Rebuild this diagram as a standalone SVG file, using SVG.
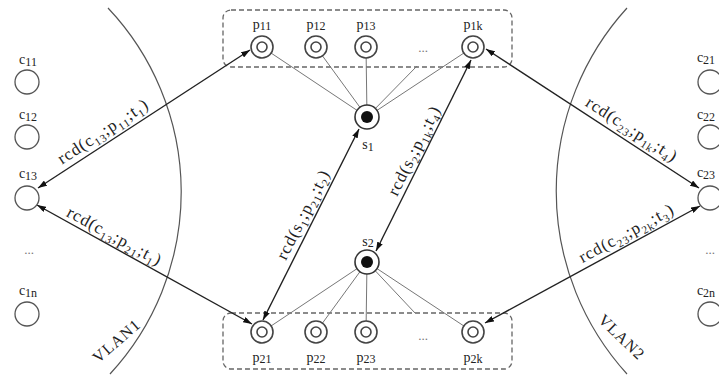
<svg xmlns="http://www.w3.org/2000/svg" width="719" height="376" viewBox="0 0 719 376">
<defs>
<marker id="ah" markerUnits="userSpaceOnUse" markerWidth="9" markerHeight="6" refX="9" refY="3" orient="auto-start-reverse"><path d="M0,0 L9,3 L0,6 z" fill="#111"/></marker>
<style>
text{font-family:"Liberation Serif","Times New Roman",serif;fill:#222}
.lbl{font-size:14px;text-anchor:middle}
.sub{font-size:12px}
.rcd{font-size:17px;text-anchor:middle;letter-spacing:1px}
.rs{font-size:11px}
.vlan{font-size:16px;text-anchor:middle;letter-spacing:1px}
.dots{font-size:13px;text-anchor:middle;fill:#777}
.arc{fill:none;stroke:#555;stroke-width:1.2}
.box{fill:none;stroke:#666;stroke-width:1.3;stroke-dasharray:5 3}
.client{fill:#fff;stroke:#555;stroke-width:1.3}
.po{fill:#fff;stroke:#444;stroke-width:1.6}
.pi{fill:#fff;stroke:#444;stroke-width:1.6}
.so{fill:#fff;stroke:#333;stroke-width:1.6}
.si{fill:#111}
.thin{stroke:#777;stroke-width:1}
.arr{stroke:#222;stroke-width:1.4;marker-start:url(#ah);marker-end:url(#ah)}
</style>
</defs>
<rect width="719" height="376" fill="#fff"/>

<!-- VLAN arcs and boxes -->
<path class="arc" d="M108,8 A268,268 0 0 1 110,374"/>
<path class="arc" d="M627,8 A272,272 0 0 0 627,374"/>
<text class="vlan" transform="translate(120,345) rotate(-41)">VLAN1</text>
<text class="vlan" transform="translate(618,341) rotate(44)">VLAN2</text>
<rect class="box" x="223" y="10" width="289" height="57" rx="8"/>
<rect class="box" x="223" y="313" width="289" height="56" rx="8"/>

<g id="connectors">
<line class="thin" x1="367" y1="117" x2="262" y2="47"/>
<line class="thin" x1="367" y1="117" x2="316" y2="47"/>
<line class="thin" x1="367" y1="117" x2="366" y2="47"/>
<line class="thin" x1="367" y1="117" x2="417" y2="66"/>
<line class="thin" x1="367" y1="117" x2="473" y2="47"/>
<line class="thin" x1="367" y1="262" x2="262" y2="332"/>
<line class="thin" x1="367" y1="262" x2="316" y2="332"/>
<line class="thin" x1="367" y1="262" x2="366" y2="332"/>
<line class="thin" x1="367" y1="262" x2="415" y2="313"/>
<line class="thin" x1="367" y1="262" x2="473" y2="332"/>
<line class="arr" x1="38" y1="188" x2="250" y2="50"/>
<line class="arr" x1="37" y1="205" x2="252" y2="324"/>
<line class="arr" x1="263" y1="320" x2="359" y2="129"/>
<line class="arr" x1="376" y1="251" x2="471" y2="60"/>
<line class="arr" x1="486" y1="49" x2="699" y2="188"/>
<line class="arr" x1="700" y1="206" x2="485" y2="323"/>
<text class="rcd" transform="translate(106,136) rotate(-33.2)">rcd(c<tspan class="rs" dy="4">13</tspan><tspan dy="-4">;p</tspan><tspan class="rs" dy="4">11</tspan><tspan dy="-4">;t</tspan><tspan class="rs" dy="4">1</tspan><tspan dy="-4">)</tspan></text>
<text class="rcd" transform="translate(112,241) rotate(28.6)">rcd(c<tspan class="rs" dy="4">13</tspan><tspan dy="-4">;p</tspan><tspan class="rs" dy="4">21</tspan><tspan dy="-4">;t</tspan><tspan class="rs" dy="4">1</tspan><tspan dy="-4">)</tspan></text>
<text class="rcd" transform="translate(308,217) rotate(-63.2)">rcd(s<tspan class="rs" dy="4">1</tspan><tspan dy="-4">;p</tspan><tspan class="rs" dy="4">21</tspan><tspan dy="-4">;t</tspan><tspan class="rs" dy="4">2</tspan><tspan dy="-4">)</tspan></text>
<text class="rcd" transform="translate(419,153) rotate(-63.4)">rcd(s<tspan class="rs" dy="4">2</tspan><tspan dy="-4">;p</tspan><tspan class="rs" dy="4">1k</tspan><tspan dy="-4">;t</tspan><tspan class="rs" dy="4">4</tspan><tspan dy="-4">)</tspan></text>
<text class="rcd" transform="translate(629,134) rotate(32.9)">rcd(c<tspan class="rs" dy="4">23</tspan><tspan dy="-4">;p</tspan><tspan class="rs" dy="4">1k</tspan><tspan dy="-4">;t</tspan><tspan class="rs" dy="4">4</tspan><tspan dy="-4">)</tspan></text>
<text class="rcd" transform="translate(629,238) rotate(-28.4)">rcd(c<tspan class="rs" dy="4">23</tspan><tspan dy="-4">;p</tspan><tspan class="rs" dy="4">2k</tspan><tspan dy="-4">;t</tspan><tspan class="rs" dy="4">3</tspan><tspan dy="-4">)</tspan></text>
</g>

<!-- left clients -->
<g id="c11"><text class="lbl" x="28" y="64">c<tspan class="sub" dy="2">11</tspan></text><circle class="client" cx="27" cy="82" r="12"/></g>
<g id="c12"><text class="lbl" x="28" y="119">c<tspan class="sub" dy="2">12</tspan></text><circle class="client" cx="27" cy="137" r="12"/></g>
<g id="c13"><text class="lbl" x="28" y="178">c<tspan class="sub" dy="2">13</tspan></text><circle class="client" cx="27" cy="198" r="12"/></g>
<text class="dots" x="29" y="254">...</text>
<g id="c1n"><text class="lbl" x="28" y="295">c<tspan class="sub" dy="2">1n</tspan></text><circle class="client" cx="27" cy="314" r="12"/></g>

<!-- right clients -->
<g id="c21"><text class="lbl" x="706" y="62">c<tspan class="sub" dy="2">21</tspan></text><circle class="client" cx="710" cy="82" r="12"/></g>
<g id="c22"><text class="lbl" x="706" y="119">c<tspan class="sub" dy="2">22</tspan></text><circle class="client" cx="710" cy="137" r="12"/></g>
<g id="c23"><text class="lbl" x="706" y="177">c<tspan class="sub" dy="2">23</tspan></text><circle class="client" cx="710" cy="198" r="12"/></g>
<text class="dots" x="710" y="254">...</text>
<g id="c2n"><text class="lbl" x="706" y="295">c<tspan class="sub" dy="2">2n</tspan></text><circle class="client" cx="710" cy="314" r="12"/></g>

<!-- top proxies -->
<g id="p11"><text class="lbl" x="262" y="29">p<tspan class="sub" dy="1">11</tspan></text><circle class="po" cx="262" cy="47" r="11"/><circle class="pi" cx="262" cy="47" r="5"/></g>
<g id="p12"><text class="lbl" x="316" y="29">p<tspan class="sub" dy="1">12</tspan></text><circle class="po" cx="316" cy="47" r="11"/><circle class="pi" cx="316" cy="47" r="5"/></g>
<g id="p13"><text class="lbl" x="366" y="29">p<tspan class="sub" dy="1">13</tspan></text><circle class="po" cx="366" cy="47" r="11"/><circle class="pi" cx="366" cy="47" r="5"/></g>
<text class="dots" x="423" y="52">...</text>
<g id="p1k"><text class="lbl" x="473" y="29">p<tspan class="sub" dy="1">1k</tspan></text><circle class="po" cx="473" cy="47" r="11"/><circle class="pi" cx="473" cy="47" r="5"/></g>

<!-- servers -->
<g id="s1"><circle class="so" cx="367" cy="117" r="12"/><circle class="si" cx="367" cy="117" r="6"/><text class="lbl" x="368" y="149">s<tspan class="sub" dy="2">1</tspan></text></g>
<g id="s2"><text class="lbl" x="368" y="246">s<tspan class="sub" dy="1">2</tspan></text><circle class="so" cx="367" cy="262" r="12"/><circle class="si" cx="367" cy="262" r="6"/></g>

<!-- bottom proxies -->
<g id="p21"><circle class="po" cx="262" cy="332" r="11"/><circle class="pi" cx="262" cy="332" r="5"/><text class="lbl" x="262" y="362">p<tspan class="sub" dy="1">21</tspan></text></g>
<g id="p22"><circle class="po" cx="316" cy="332" r="11"/><circle class="pi" cx="316" cy="332" r="5"/><text class="lbl" x="316" y="362">p<tspan class="sub" dy="1">22</tspan></text></g>
<g id="p23"><circle class="po" cx="366" cy="332" r="11"/><circle class="pi" cx="366" cy="332" r="5"/><text class="lbl" x="366" y="362">p<tspan class="sub" dy="1">23</tspan></text></g>
<text class="dots" x="423" y="340">...</text>
<g id="p2k"><circle class="po" cx="473" cy="332" r="11"/><circle class="pi" cx="473" cy="332" r="5"/><text class="lbl" x="473" y="362">p<tspan class="sub" dy="1">2k</tspan></text></g>
</svg>
